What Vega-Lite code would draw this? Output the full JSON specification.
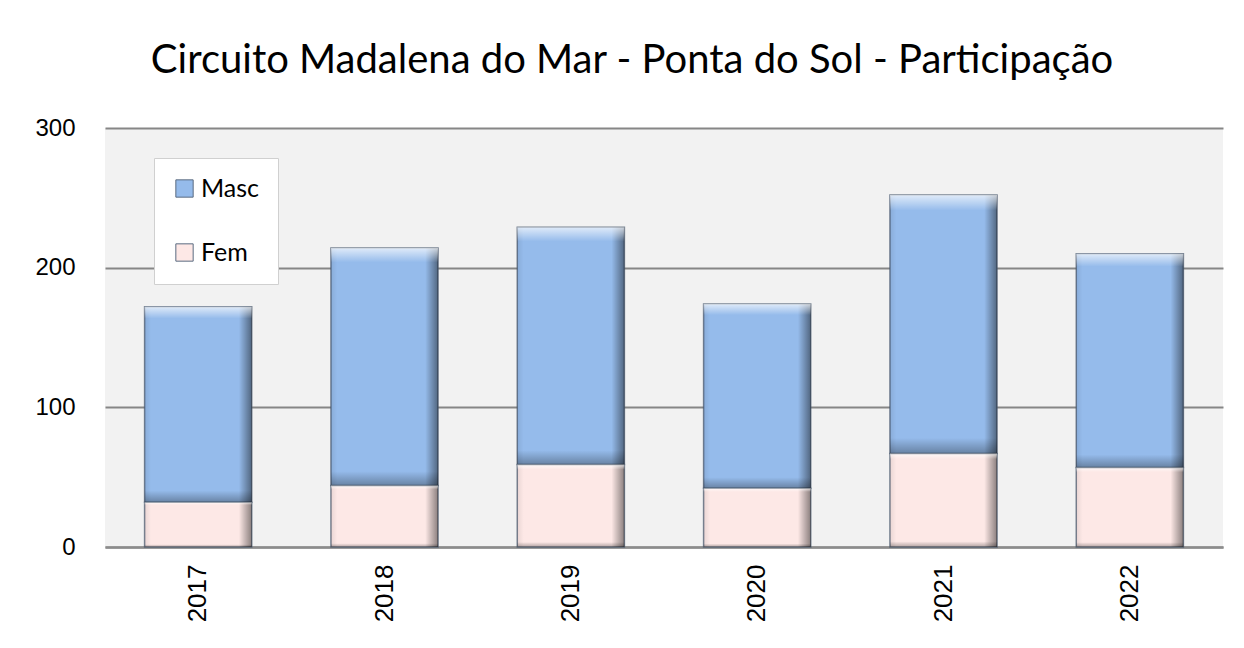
{
  "$schema": "https://vega.github.io/schema/vega-lite/v6.json",
  "autosize": {"type": "none"},
  "width": 1118,
  "height": 419,
  "padding": {"left": 105, "top": 128, "right": 21, "bottom": 101},
  "background": "white",
  "title": {
    "text": "Circuito Madalena do Mar - Ponta do Sol - Participação",
    "font": "Lato",
    "fontSize": 40,
    "fontWeight": "normal",
    "color": "#000000",
    "anchor": "middle",
    "frame": "group",
    "baseline": "alphabetic",
    "offset": 53,
    "dy": 50,
    "dx": -32
  },
  "data": {
    "values": [
      {"ano": "2017", "sexo": "Fem", "n": 32},
      {"ano": "2017", "sexo": "Masc", "n": 140},
      {"ano": "2018", "sexo": "Fem", "n": 44},
      {"ano": "2018", "sexo": "Masc", "n": 170},
      {"ano": "2019", "sexo": "Fem", "n": 59},
      {"ano": "2019", "sexo": "Masc", "n": 170},
      {"ano": "2020", "sexo": "Fem", "n": 42},
      {"ano": "2020", "sexo": "Masc", "n": 132},
      {"ano": "2021", "sexo": "Fem", "n": 67},
      {"ano": "2021", "sexo": "Masc", "n": 185},
      {"ano": "2022", "sexo": "Fem", "n": 57},
      {"ano": "2022", "sexo": "Masc", "n": 153}
    ]
  },
  "encoding": {
    "x": {
      "field": "ano",
      "type": "nominal",
      "scale": {"paddingInner": 0.425, "paddingOuter": 0.2125},
      "axis": {
        "title": null,
        "labelAngle": 270,
        "labelAlign": "right",
        "labelBaseline": "middle",
        "labelFont": "Liberation Sans",
        "labelFontSize": 26,
        "labelColor": "#000000",
        "labelPadding": 17,
        "ticks": false,
        "domainColor": "#8c8c8c",
        "domainWidth": 2.5,
        "grid": false
      }
    },
    "y": {
      "field": "n",
      "type": "quantitative",
      "stack": "zero",
      "scale": {"domain": [0, 300], "nice": false},
      "axis": {
        "title": null,
        "values": [0, 100, 200, 300],
        "labelFont": "Liberation Sans",
        "labelFontSize": 24,
        "labelColor": "#000000",
        "labelPadding": 30,
        "ticks": false,
        "domain": false,
        "grid": true,
        "gridColor": "#868686",
        "gridWidth": 2
      }
    },
    "order": {"field": "sexo", "sort": "ascending"}
  },
  "layer": [
    {
      "mark": {"type": "bar", "stroke": "#46566b", "strokeWidth": 1.5, "strokeOpacity": 0.7},
      "encoding": {
        "color": {
          "field": "sexo",
          "type": "nominal",
          "scale": {"domain": ["Masc", "Fem"], "range": ["#95bbeb", "#fde8e6"]},
          "legend": {
            "title": null,
            "orient": "none",
            "legendX": 49,
            "legendY": 30,
            "fillColor": "#ffffff",
            "strokeColor": "#d0d0d0",
            "padding": 18,
            "symbolType": "square",
            "symbolSize": 300,
            "symbolStrokeColor": "#5a6b80",
            "symbolStrokeWidth": 1,
            "labelFont": "Lato",
            "labelFontSize": 25,
            "labelColor": "#000000",
            "labelOffset": 4,
            "rowPadding": 38,
            "labelLimit": 200
          }
        }
      }
    },
    {
      "mark": {
        "type": "bar",
        "fill": {
          "gradient": "linear",
          "x1": 0, "x2": 1, "y1": 0, "y2": 0,
          "stops": [
            {"offset": 0, "color": "rgba(0,0,0,0.08)"},
            {"offset": 0.06, "color": "rgba(0,0,0,0)"},
            {"offset": 0.88, "color": "rgba(0,0,0,0)"},
            {"offset": 1, "color": "rgba(0,0,0,0.45)"}
          ]
        }
      },
      "encoding": {"detail": {"field": "sexo"}}
    },
    {
      "mark": {
        "type": "bar",
        "fill": {
          "gradient": "linear",
          "x1": 0, "x2": 0, "y1": 0, "y2": 1,
          "stops": [
            {"offset": 0, "color": "rgba(255,255,255,0.7)"},
            {"offset": 0.06, "color": "rgba(255,255,255,0)"},
            {"offset": 0.94, "color": "rgba(0,0,0,0)"},
            {"offset": 1, "color": "rgba(0,0,0,0.3)"}
          ]
        }
      },
      "encoding": {"detail": {"field": "sexo"}}
    }
  ],
  "config": {
    "view": {"fill": "#f2f2f2", "stroke": null}
  }
}
